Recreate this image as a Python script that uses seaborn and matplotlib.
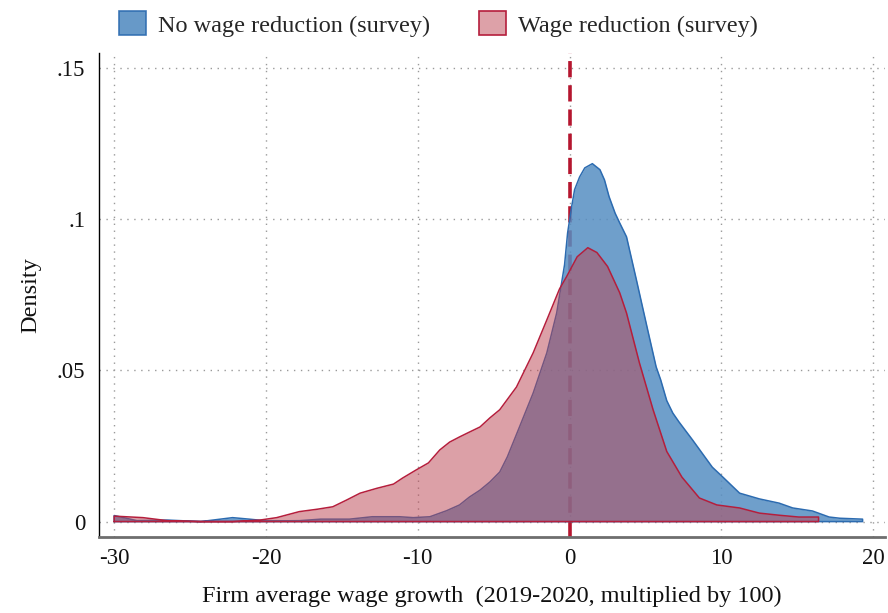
import numpy as np
import pandas as pd
import matplotlib
matplotlib.use("Agg")
import matplotlib.pyplot as plt
from matplotlib.patches import Patch
import seaborn as sns

# ---- data ----
no_cut_x = [-30.0, -28.5, -26.5, -24.3, -22.2, -21.1, -19.9, -17.8, -16.4, -14.5,
            -13.0, -11.2, -10.3, -9.2, -8.1, -7.25, -6.6, -5.9, -5.25, -4.6,
            -4.1, -3.3, -2.4, -1.5, -0.85, -0.33, -0.13, 0.13, 0.33, 0.66,
            1.0, 1.5, 2.0, 2.3, 2.6, 3.0, 3.3, 3.75, 4.4, 5.1,
            5.7, 6.0, 6.4, 6.8, 7.2, 8.1, 9.4, 10.1, 11.2, 12.5,
            13.8, 14.7, 16.0, 17.1, 17.8, 19.3]
no_cut_density = [0.0020, 0.0003, 0.0005, 0.0000, 0.0013, 0.0008, 0.0002, 0.0003, 0.0008, 0.0008,
                  0.0016, 0.0016, 0.0013, 0.0016, 0.0036, 0.0055, 0.0081, 0.0104, 0.0131, 0.0164,
                  0.0214, 0.0313, 0.0425, 0.0558, 0.0690, 0.0850, 0.0955, 0.1040, 0.1098, 0.1140,
                  0.1170, 0.1184, 0.1164, 0.1130, 0.1075, 0.1020, 0.0988, 0.0942, 0.0800, 0.0644,
                  0.0512, 0.0469, 0.0400, 0.0359, 0.0330, 0.0270, 0.0180, 0.0147, 0.0094, 0.0075,
                  0.0061, 0.0045, 0.0035, 0.0015, 0.0011, 0.0008]

cut_x = [-30.0, -28.1, -26.5, -24.3, -22.2, -20.4, -19.3, -17.8, -16.6, -15.6,
         -14.7, -13.8, -12.7, -11.6, -11.0, -10.1, -9.3, -8.55, -7.9, -7.25,
         -6.6, -5.9, -5.25, -4.6, -3.5, -2.4, -1.5, -0.66, -0.2, 0.5,
         1.2, 1.8, 2.5, 3.3, 3.75, 4.6, 5.5, 6.4, 7.4, 8.55,
         9.7, 11.2, 12.5, 13.8, 15.1, 16.4]
cut_density = [0.0018, 0.0013, 0.0003, 0.0000, 0.0000, 0.0005, 0.0013, 0.0033, 0.0041, 0.0049,
               0.0071, 0.0094, 0.0110, 0.0124, 0.0144, 0.0171, 0.0194, 0.0237, 0.0263, 0.0280,
               0.0296, 0.0313, 0.0343, 0.0370, 0.0445, 0.0558, 0.0667, 0.0770, 0.0810, 0.0876,
               0.0906, 0.0890, 0.0844, 0.0757, 0.0690, 0.0525, 0.0370, 0.0232, 0.0147, 0.0078,
               0.0055, 0.0045, 0.0028, 0.0021, 0.0015, 0.0015]

series_labels = ["No wage reduction (survey)", "Wage reduction (survey)"]
x_ticks = [-30, -20, -10, 0, 10, 20]
y_ticks = [0, 0.05, 0.1, 0.15]
y_tick_labels = ["0", ".05", ".1", ".15"]
x_label = "Firm average wage growth  (2019-2020, multiplied by 100)"
y_label = "Density"

# ---- style ----
sns.set_theme(style="white")
plt.rcParams["font.family"] = ["Liberation Serif", "DejaVu Serif"]

blue_fill = "#568EC2"
blue_edge = "#2C6BB0"
red_fill = "#BB4351"
red_edge = "#B51E3C"
ref_line = "#B5162F"
FS = 17.5
TFS = 16.5

fig = plt.figure(figsize=(8.88, 6.13), dpi=100)
ax = fig.add_axes([0.1115, 0.124, 0.8855, 0.7895])

ax.set_xlim(-31.0, 20.8)
ax.set_ylim(-0.0051, 0.155)

# grid
for t in x_ticks:
    ax.axvline(t, color="#9a9a9a", lw=1.0, ls=(0, (1, 4)), zorder=0)
for t in y_ticks:
    ax.axhline(t, color="#9a9a9a", lw=1.0, ls=(0, (1, 4)), zorder=0)

# reference line at 0 (behind the areas)
ax.axvline(0, color=ref_line, lw=2.6, ls=(0, (4.5, 2.2)), zorder=1)


def closed(xs, ys):
    xs = list(xs)
    ys = list(ys)
    cx = [xs[0]] + xs + [xs[-1], xs[0]]
    cy = [0.0] + ys + [0.0, 0.0]
    return pd.DataFrame({"x": cx, "y": cy})


df_blue = pd.DataFrame({"x": no_cut_x, "y": no_cut_density})
df_red = pd.DataFrame({"x": cut_x, "y": cut_density})

ax.fill_between(df_blue["x"], 0, df_blue["y"], color=blue_fill, alpha=0.85, lw=0, zorder=2)
sns.lineplot(data=closed(no_cut_x, no_cut_density), x="x", y="y", sort=False, estimator=None,
             color=blue_edge, lw=1.1, ax=ax, zorder=3)
ax.fill_between(df_red["x"], 0, df_red["y"], color=red_fill, alpha=0.5, lw=0, zorder=4)
sns.lineplot(data=closed(cut_x, cut_density), x="x", y="y", sort=False, estimator=None,
             color=red_edge, lw=1.1, ax=ax, zorder=5)

ax.set_xticks(x_ticks)
ax.set_xticklabels([str(t) for t in x_ticks])
ax.set_yticks(y_ticks)
ax.set_yticklabels(y_tick_labels)
ax.tick_params(axis="both", length=0, labelsize=TFS, colors="#111111")
ax.tick_params(axis="x", pad=8)
ax.tick_params(axis="y", pad=10)

ax.set_xlabel(x_label, fontsize=FS, color="#111111", labelpad=12)
ax.set_ylabel(y_label, fontsize=FS, color="#111111", labelpad=11)

for s in ["top", "right"]:
    ax.spines[s].set_visible(False)
ax.spines["left"].set_color("#000000")
ax.spines["left"].set_linewidth(1.0)
ax.spines["bottom"].set_color("#6e6e6e")
ax.spines["bottom"].set_linewidth(2.0)

handles = [
    Patch(facecolor=blue_fill, edgecolor=blue_edge, alpha=0.9, lw=1.2),
    Patch(facecolor="#DDA1A8", edgecolor=red_edge, lw=1.2),
]
fig.legend(handles, series_labels, loc="center", bbox_to_anchor=(0.494, 0.961), ncol=2,
           frameon=False, fontsize=FS, handlelength=1.1, handleheight=1.15,
           handletextpad=0.5, columnspacing=2.0)

fig.savefig("out.png", dpi=100)
